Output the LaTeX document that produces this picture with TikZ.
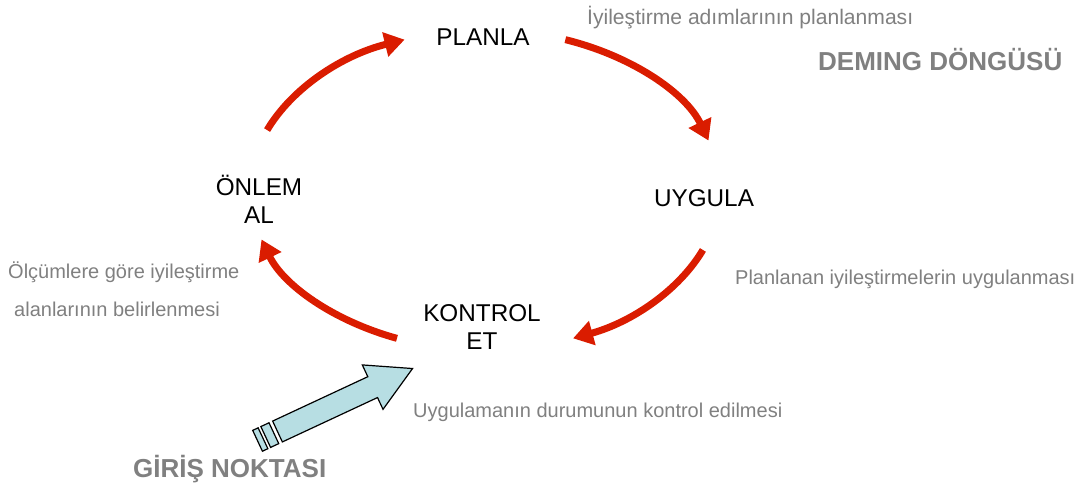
\documentclass[tikz,border=0pt]{standalone}
\usepackage{fontspec}
\setmainfont{Liberation Sans}
\usetikzlibrary{arrows.meta,calc}
\definecolor{cyclered}{RGB}{218,28,0}
\definecolor{notegray}{RGB}{128,128,128}
\definecolor{entryblue}{RGB}{183,222,227}
\tikzset{
  stage/.style={font=\fontsize{24.3}{28}\selectfont, text=black, align=center, inner sep=0pt},
  note/.style={font=\fontsize{20}{38}\selectfont, text=notegray, align=left, inner sep=0pt, anchor=base west},
  headline/.style={font=\fontsize{26}{30}\selectfont\bfseries, text=notegray, inner sep=0pt, anchor=base west},
  cyclearrow/.style={draw=cyclered, line width=7pt, -{Triangle[length=20pt,width=24pt]}},
}
\begin{document}
\begin{tikzpicture}[x=1pt,y=1pt]
\useasboundingbox (0,0) rectangle (1078,-489);

% four stages of the cycle
\node[stage] (planla) at (483,-37) {PLANLA};
\node[stage] (uygula) at (704,-198) {UYGULA};
\node[stage] (onlem) at (259,-199) {ÖNLEM\\AL};
\node[stage] (kontrol) at (482,-327) {KONTROL\\ET};

% explanatory notes
\node[note, font=\fontsize{21.1}{38}\selectfont] (n1) at (587,-25) {İyileştirme adımlarının planlanması};
\node[note] (n2) at (735,-284) {Planlanan iyileştirmelerin uygulanması};
\node[note] (n3) at (413,-417) {Uygulamanın durumunun kontrol edilmesi};
\node[note] (n4a) at (8,-278) {Ölçümlere göre iyileştirme};
\node[note] (n4b) at (14,-316) {alanlarının belirlenmesi};

% titles
\node[headline] (title) at (818,-71) {DEMING DÖNGÜSÜ};
\node[headline] (entry) at (133,-477) {GİRİŞ NOKTASI};

% red arcs of the cycle, on an ellipse around (485,-190)
\coordinate (c) at (485,-190);
\coordinate (a1) at ($(c)+(158:235 and 160)$);
\coordinate (a2) at ($(c)+(70:235 and 160)$);
\coordinate (a3) at ($(c)+(-22:235 and 160)$);
\coordinate (a4) at ($(c)+(-112:235 and 160)$);
\draw[cyclearrow] (a1) arc[start angle=158, end angle=110, x radius=235, y radius=160];
\draw[cyclearrow] (a2) arc[start angle=70, end angle=18, x radius=235, y radius=160];
\draw[cyclearrow] (a3) arc[start angle=-22, end angle=-68, x radius=235, y radius=160];
\draw[cyclearrow] (a4) arc[start angle=-112, end angle=-162, x radius=235, y radius=160];

% entry point arrow
\begin{scope}[shift={(277.5,-431.5)}, rotate=25, line width=1.2pt, draw=black, fill=entryblue]
  \filldraw (0,-11.5) -- (105,-11.5) -- (105,-24.5) -- (149,0) -- (105,24.5) -- (105,11.5) -- (0,11.5) -- cycle;
  \filldraw (-13,-11.5) rectangle (-4,11.5);
  \filldraw (-22,-11.5) rectangle (-16,11.5);
\end{scope}
\end{tikzpicture}
\end{document}
